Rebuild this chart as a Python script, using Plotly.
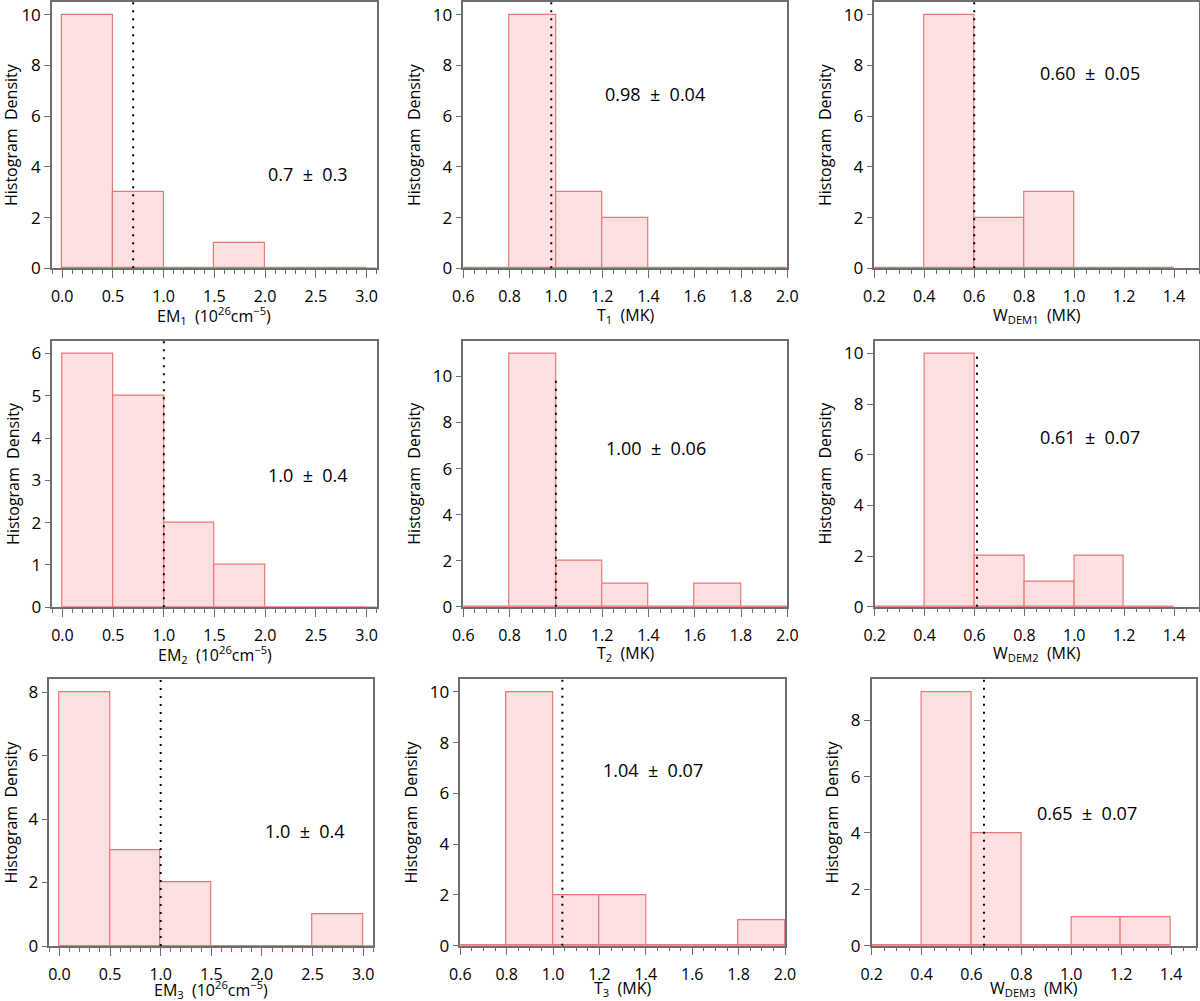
import plotly.graph_objects as go

# ---------------- data ----------------
em_edges = [0.0, 0.5, 1.0, 1.5, 2.0, 2.5, 3.0]
t_edges = [0.6, 0.8, 1.0, 1.2, 1.4, 1.6, 1.8, 2.0]
w_edges = [0.2, 0.4, 0.6, 0.8, 1.0, 1.2, 1.4]

em1_counts = [10, 3, 0, 1, 0, 0]
em2_counts = [6, 5, 2, 1, 0, 0]
em3_counts = [8, 3, 2, 0, 0, 1]
t1_counts = [0, 10, 3, 2, 0, 0, 0]
t2_counts = [0, 11, 2, 1, 0, 1, 0]
t3_counts = [0, 10, 2, 2, 0, 0, 1]
w1_counts = [0, 10, 2, 3, 0, 0]
w2_counts = [0, 10, 2, 1, 2, 0]
w3_counts = [0, 9, 4, 0, 1, 1]

means = [0.7, 0.98, 0.60, 1.0, 1.00, 0.61, 1.0, 1.04, 0.65]
labels = ["0.7 ± 0.3", "0.98 ± 0.04", "0.60 ± 0.05",
          "1.0 ± 0.4", "1.00 ± 0.06", "0.61 ± 0.07",
          "1.0 ± 0.4", "1.04 ± 0.07", "0.65 ± 0.07"]
label_x = [2.42, 1.43, 1.063, 2.42, 1.434, 1.063, 2.425, 1.431, 1.065]
label_y = [3.71, 6.89, 7.70, 3.125, 6.89, 6.71, 3.63, 6.91, 4.69]

x_titles = ["EM<sub>1</sub>  (10<sup>26</sup>cm<sup>−5</sup>)", "T<sub>1</sub>  (MK)", "W<sub>DEM1</sub>  (MK)",
            "EM<sub>2</sub>  (10<sup>26</sup>cm<sup>−5</sup>)", "T<sub>2</sub>  (MK)", "W<sub>DEM2</sub>  (MK)",
            "EM<sub>3</sub>  (10<sup>26</sup>cm<sup>−5</sup>)", "T<sub>3</sub>  (MK)", "W<sub>DEM3</sub>  (MK)"]
y_title = "Histogram  Density"

# ---------------- panel config ----------------
counts = [em1_counts, t1_counts, w1_counts,
          em2_counts, t2_counts, w2_counts,
          em3_counts, t3_counts, w3_counts]
edges = [em_edges, t_edges, w_edges] * 3
xranges = [[-0.1, 3.1], [0.6, 2.0], [0.2, 1.5]] * 3
baseline_ext = [[0.0, 3.1], [0.6, 2.0], [0.2, 1.4]] * 3
xmajor = [0.5, 0.2, 0.2] * 3
xminor = [0.1, 0.05, 0.05] * 3
xtick0 = [0.0, 0.6, 0.2] * 3
ydtick = [2, 2, 2, 1, 2, 2, 2, 2, 2]
vline_full = [True, True, True, True, False, False, True, True, True]
title_shift = [-47, -47, -47, -47, -47, -47, -43, -43, -43]

# pixel boxes (left, right, top, bottom)
W_PX, H_PX = 1200, 1001
boxes = [
    (52.0, 376.7, 2.0, 268.3), (463.3, 787.3, 2.0, 268.3), (874.3, 1199.0, 2.0, 268.3),
    (52.3, 376.7, 340.7, 607.3), (463.3, 787.3, 340.7, 606.8), (874.7, 1199.0, 340.7, 606.7),
    (49.3, 373.3, 679.3, 946.0), (460.3, 785.0, 679.3, 945.7), (871.7, 1196.0, 679.3, 945.7),
]

FILL = "rgba(255,224,224,1)"
EDGE = "rgb(232,120,120)"
AXC = "#6e6e6e"
FONT = "Open Sans"
FS = 16

fig = go.Figure()
layout = {}
annotations = []


def nb(s):
    return s.replace(" ", "\u00a0")


for i in range(9):
    xa = f"x{i+1}" if i else "x"
    ya = f"y{i+1}" if i else "y"
    xk = f"xaxis{i+1}" if i else "xaxis"
    yk = f"yaxis{i+1}" if i else "yaxis"
    e = edges[i]
    c = counts[i]
    centers = [(e[k] + e[k + 1]) / 2 for k in range(len(c))]
    widths = [e[k + 1] - e[k] for k in range(len(c))]
    ymax = max(c) * 1.05

    fig.add_trace(go.Scatter(x=baseline_ext[i], y=[0, 0], mode="lines",
                             line=dict(color=EDGE, width=1.5), xaxis=xa, yaxis=ya,
                             showlegend=False, hoverinfo="skip"))
    fig.add_trace(go.Bar(x=centers, y=c, width=widths,
                         marker=dict(color=FILL, line=dict(color=EDGE, width=1.2)),
                         xaxis=xa, yaxis=ya, showlegend=False))
    vt = ymax if vline_full[i] else 10
    fig.add_trace(go.Scatter(x=[means[i], means[i]], y=[0, vt], mode="lines",
                             line=dict(color="black", width=2, dash="2px,6px"),
                             xaxis=xa, yaxis=ya, showlegend=False, hoverinfo="skip"))

    l, r, t, b = boxes[i]
    xdom = [l / W_PX, r / W_PX]
    ydom = [1 - b / H_PX, 1 - t / H_PX]

    layout[xk] = dict(domain=xdom, anchor=ya, range=xranges[i], showgrid=False, zeroline=False,
                      automargin=False,
                      showline=True, linecolor=AXC, linewidth=1.5, mirror=True,
                      ticks="outside", ticklen=8, tickwidth=1.2, tickcolor=AXC,
                      tick0=xtick0[i], dtick=xmajor[i], tickformat=".1f",
                      ticklabelstandoff=5,
                      minor=dict(ticks="outside", ticklen=4, tickwidth=1, tickcolor=AXC,
                                 tick0=xtick0[i], dtick=xminor[i]),
                      tickfont=dict(family=FONT, size=FS, color="black"))
    layout[yk] = dict(domain=ydom, anchor=xa, range=[0, ymax], showgrid=False, zeroline=False,
                      automargin=False,
                      showline=True, linecolor=AXC, linewidth=1.5, mirror=True,
                      ticks="outside", ticklen=6, tickwidth=1.2, tickcolor=AXC,
                      tick0=0, dtick=ydtick[i],
                      tickfont=dict(family=FONT, size=FS + 1, color="black"),
                      title=dict(text=nb(y_title), font=dict(family=FONT, size=FS, color="black"), standoff=8))
    layout[f"xaxis{i+10}"] = dict(domain=xdom, overlaying=xa, side="top", anchor=ya, range=xranges[i],
                                  showgrid=False, zeroline=False, showline=False, showticklabels=False,
                                  automargin=False,
                                  ticks="inside", ticklen=5, tickwidth=1.2, tickcolor=AXC,
                                  tick0=xtick0[i], dtick=xmajor[i])
    layout[f"yaxis{i+10}"] = dict(domain=ydom, overlaying=ya, side="right", anchor=xa, range=[0, ymax],
                                  showgrid=False, zeroline=False, showline=False, showticklabels=False,
                                  automargin=False,
                                  ticks="inside", ticklen=7, tickwidth=1.2, tickcolor=AXC,
                                  tick0=0, dtick=ydtick[i])
    annotations.append(dict(x=label_x[i], y=label_y[i], xref=xa, yref=ya,
                            text=labels[i].replace(" ", "\u00a0\u00a0"),
                            showarrow=False, font=dict(family=FONT, size=FS + 2, color="black"),
                            xanchor="center", yanchor="middle"))
    annotations.append(dict(x=0.5, y=0, xref=f"{xa} domain", yref=f"{ya} domain",
                            text=nb(x_titles[i]), showarrow=False, yshift=title_shift[i],
                            font=dict(family=FONT, size=FS, color="black"),
                            xanchor="center", yanchor="middle"))

fig.update_layout(**layout)
fig.update_layout(width=W_PX, height=H_PX, margin=dict(l=0, r=0, t=0, b=0),
                  paper_bgcolor="white", plot_bgcolor="white", bargap=0,
                  annotations=annotations, showlegend=False)

fig.write_html("out.html", config={"displayModeBar": False},
               post_script="document.body.style.margin='0';document.body.style.overflow='hidden';")
